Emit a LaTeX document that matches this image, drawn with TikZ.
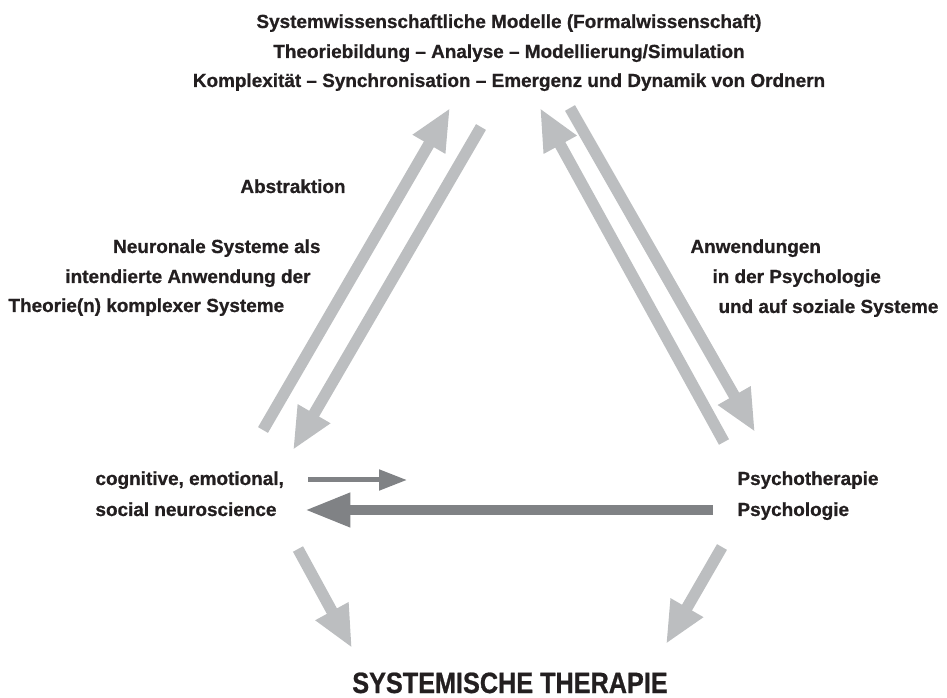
\documentclass[tikz,border=0pt]{standalone}
\usepackage{fontspec}
\setmainfont{Liberation Sans}[BoldFeatures={FakeBold=0.8}]
\newfontfamily\titlefont{Liberation Sans}[FakeStretch=0.86,BoldFeatures={FakeBold=0.8}]
\usetikzlibrary{arrows.meta}
\definecolor{lightgr}{RGB}{188,190,192}
\definecolor{darkgr}{RGB}{128,130,133}
\definecolor{inkblack}{RGB}{35,31,32}
\tikzset{every picture/.style={line width=0.75pt}}
\tikzset{
	txt/.style={inner sep=0pt, text=inkblack, font=\bfseries\fontsize{14.2}{17}\selectfont},
	lightarrow/.style={draw=lightgr, line width=8.6pt, -{Triangle[length=31.5pt,width=26pt]}},
	darkarrow/.style={draw=darkgr, line width=7.5pt, -{Triangle[length=34pt,width=24pt]}},
	smallarrow/.style={draw=darkgr, line width=3.75pt, -{Triangle[length=21pt,width=15pt]}}
}

\begin{document}
\begin{tikzpicture}[x=0.75pt,y=0.75pt,yscale=-1,xscale=1]
		\useasboundingbox (0,0) rectangle (947,698);
		
		% Text Node: top
		\node [txt, anchor=base] (top1) at (509,28) {Systemwissenschaftliche Modelle (Formalwissenschaft)};
		\node [txt, anchor=base] (top2) at (509,58) {Theoriebildung – Analyse – Modellierung/Simulation};
		\node [txt, anchor=base] (top3) at (509,87) {Komplexität – Synchronisation – Emergenz und Dynamik von Ordnern};
		% Text Node: left side
		\node [txt, anchor=base] (abstr) at (293,193) {Abstraktion};
		\node [txt, anchor=base east] (neuro1) at (321,253) {Neuronale Systeme als};
		\node [txt, anchor=base east] (neuro2) at (311,283) {intendierte Anwendung der};
		\node [txt, anchor=base west] (neuro3) at (8,312) {Theorie(n) komplexer Systeme};
		% Text Node: right side
		\node [txt, anchor=base west] (anw1) at (690,253) {Anwendungen};
		\node [txt, anchor=base west] (anw2) at (712,283) {in der Psychologie};
		\node [txt, anchor=base west] (anw3) at (718,313) {und auf soziale Systeme};
		% Text Node: corners
		\node [txt, anchor=base west] (cog1) at (95,485) {cognitive, emotional,};
		\node [txt, anchor=base west] (cog2) at (95,516) {social neuroscience};
		\node [txt, anchor=base west] (psy1) at (737,485) {Psychotherapie};
		\node [txt, anchor=base west] (psy2) at (737,516) {Psychologie};
		% Text Node: bottom
		\node [inner sep=0pt, text=inkblack, anchor=base, font=\titlefont\bfseries\fontsize{22}{26}\selectfont] (systher) at (510,693) {SYSTEMISCHE THERAPIE};
		
		% arrow end points
		\coordinate (abs-s) at (263,430);
		\coordinate (abs-e) at (450,108);
		\coordinate (neu-s) at (481,127);
		\coordinate (neu-e) at (293,450);
		\coordinate (psb-s) at (724,442);
		\coordinate (psb-e) at (540,108);
		\coordinate (anw-s) at (570,108);
		\coordinate (anw-e) at (755,432);
		\coordinate (cps-s) at (308,480);
		\coordinate (cps-e) at (407,480);
		\coordinate (psc-s) at (713,510);
		\coordinate (psc-e) at (305,510);
		\coordinate (lst-s) at (298,549);
		\coordinate (lst-e) at (352,648);
		\coordinate (rst-s) at (722,547);
		\coordinate (rst-e) at (666,644);
		
		%Arrows: light grey
		\draw [lightarrow] (abs-s) -- (abs-e);
		\draw [lightarrow] (neu-s) -- (neu-e);
		\draw [lightarrow] (psb-s) -- (psb-e);
		\draw [lightarrow] (anw-s) -- (anw-e);
		\draw [lightarrow] (lst-s) -- (lst-e);
		\draw [lightarrow] (rst-s) -- (rst-e);
		%Arrows: dark grey
		\draw [smallarrow] (cps-s) -- (cps-e);
		\draw [darkarrow] (psc-s) -- (psc-e);
		
\end{tikzpicture}
\end{document}
